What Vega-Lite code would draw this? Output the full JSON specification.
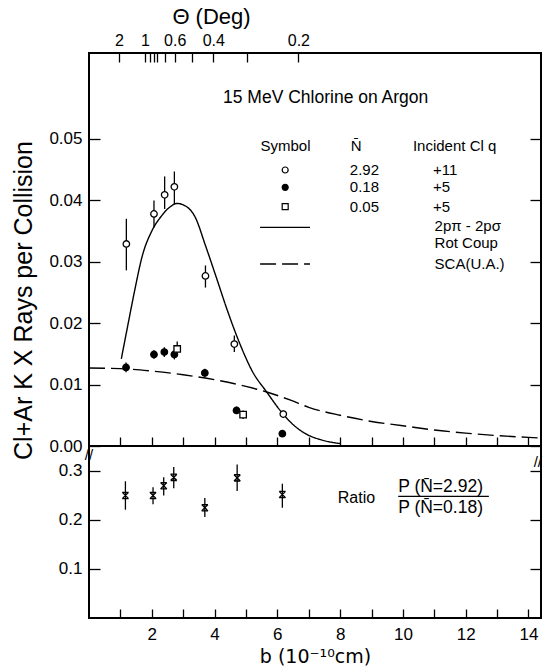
{
  "$schema": "https://vega.github.io/schema/vega-lite/v6.json",
  "background": "white",
  "padding": {"left": 10, "top": 4, "right": 0, "bottom": 0},
  "spacing": 0,
  "bounds": "flush",
  "config": {
    "font": "Liberation Sans",
    "view": {"stroke": "black", "strokeWidth": 2},
    "concat": {"spacing": 0},
    "axis": {"grid": false, "domain": false, "tickColor": "black", "tickWidth": 1.3, "labelColor": "black", "titleColor": "black", "labelFont": "Liberation Sans", "titleFont": "Liberation Sans", "labelFontSize": 17, "titleFontWeight": "normal", "labelFlush": false, "labelOverlap": false, "minExtent": 0},
    "text": {"font": "Liberation Sans", "color": "black"}
  },
  "datasets": {
    "kx": [
      {"b": 1.18, "p": 0.0128, "lo": 0.0120, "hi": 0.0136, "series": "0.18"},
      {"b": 2.07, "p": 0.0149, "lo": 0.0142, "hi": 0.0156, "series": "0.18"},
      {"b": 2.40, "p": 0.0153, "lo": 0.0145, "hi": 0.0161, "series": "0.18"},
      {"b": 2.72, "p": 0.0149, "lo": 0.0141, "hi": 0.0157, "series": "0.18"},
      {"b": 3.69, "p": 0.0119, "lo": 0.0112, "hi": 0.0126, "series": "0.18"},
      {"b": 4.70, "p": 0.0058, "lo": 0.0052, "hi": 0.0064, "series": "0.18"},
      {"b": 6.16, "p": 0.0020, "lo": 0.0015, "hi": 0.0025, "series": "0.18"},
      {"b": 2.81, "p": 0.0158, "lo": 0.0148, "hi": 0.0170, "series": "0.05"},
      {"b": 4.91, "p": 0.0051, "lo": 0.0044, "hi": 0.0058, "series": "0.05"},
      {"b": 1.19, "p": 0.0329, "lo": 0.0286, "hi": 0.0370, "series": "2.92"},
      {"b": 2.07, "p": 0.0378, "lo": 0.0356, "hi": 0.0400, "series": "2.92"},
      {"b": 2.41, "p": 0.0409, "lo": 0.0386, "hi": 0.0439, "series": "2.92"},
      {"b": 2.72, "p": 0.0422, "lo": 0.0394, "hi": 0.0447, "series": "2.92"},
      {"b": 3.71, "p": 0.0277, "lo": 0.0258, "hi": 0.0294, "series": "2.92"},
      {"b": 4.63, "p": 0.0166, "lo": 0.0153, "hi": 0.0180, "series": "2.92"},
      {"b": 6.19, "p": 0.0052, "lo": 0.0046, "hi": 0.0058, "series": "2.92"}
    ],
    "curves": [
      {"b": 1.03, "p": 0.0142, "curve": "Rot Coup"},
      {"b": 1.25, "p": 0.0200, "curve": "Rot Coup"},
      {"b": 1.45, "p": 0.0252, "curve": "Rot Coup"},
      {"b": 1.70, "p": 0.0310, "curve": "Rot Coup"},
      {"b": 2.00, "p": 0.0350, "curve": "Rot Coup"},
      {"b": 2.30, "p": 0.0374, "curve": "Rot Coup"},
      {"b": 2.60, "p": 0.0390, "curve": "Rot Coup"},
      {"b": 2.80, "p": 0.0395, "curve": "Rot Coup"},
      {"b": 3.07, "p": 0.0391, "curve": "Rot Coup"},
      {"b": 3.39, "p": 0.0372, "curve": "Rot Coup"},
      {"b": 3.70, "p": 0.0328, "curve": "Rot Coup"},
      {"b": 4.04, "p": 0.0277, "curve": "Rot Coup"},
      {"b": 4.40, "p": 0.0222, "curve": "Rot Coup"},
      {"b": 4.81, "p": 0.0166, "curve": "Rot Coup"},
      {"b": 5.20, "p": 0.0122, "curve": "Rot Coup"},
      {"b": 5.66, "p": 0.0088, "curve": "Rot Coup"},
      {"b": 6.12, "p": 0.0056, "curve": "Rot Coup"},
      {"b": 6.50, "p": 0.0035, "curve": "Rot Coup"},
      {"b": 6.90, "p": 0.0020, "curve": "Rot Coup"},
      {"b": 7.40, "p": 0.0010, "curve": "Rot Coup"},
      {"b": 8.00, "p": 0.0004, "curve": "Rot Coup"},
      {"b": 0.00, "p": 0.0127, "curve": "SCA"},
      {"b": 1.00, "p": 0.0126, "curve": "SCA"},
      {"b": 2.00, "p": 0.0122, "curve": "SCA"},
      {"b": 3.00, "p": 0.0116, "curve": "SCA"},
      {"b": 4.00, "p": 0.0108, "curve": "SCA"},
      {"b": 5.00, "p": 0.0097, "curve": "SCA"},
      {"b": 5.66, "p": 0.0088, "curve": "SCA"},
      {"b": 6.40, "p": 0.0075, "curve": "SCA"},
      {"b": 7.00, "p": 0.0063, "curve": "SCA"},
      {"b": 8.00, "p": 0.0050, "curve": "SCA"},
      {"b": 9.00, "p": 0.0040, "curve": "SCA"},
      {"b": 10.00, "p": 0.0033, "curve": "SCA"},
      {"b": 11.00, "p": 0.0026, "curve": "SCA"},
      {"b": 12.00, "p": 0.0021, "curve": "SCA"},
      {"b": 13.00, "p": 0.0017, "curve": "SCA"},
      {"b": 14.00, "p": 0.0014, "curve": "SCA"},
      {"b": 14.40, "p": 0.0013, "curve": "SCA"}
    ],
    "legendSym": [
      {"b": 6.25, "p": 0.04495, "series": "2.92"},
      {"b": 6.25, "p": 0.04212, "series": "0.18"},
      {"b": 6.25, "p": 0.03898, "series": "0.05"}
    ],
    "legendLines": [
      {"b": 5.45, "b2": 7.04, "p": 0.03561, "curve": "Rot Coup"},
      {"b": 5.45, "b2": 7.04, "p": 0.02965, "curve": "SCA"}
    ],
    "ratio": [
      {"b": 1.16, "r": 0.250, "lo": 0.221, "hi": 0.279},
      {"b": 2.04, "r": 0.250, "lo": 0.232, "hi": 0.267},
      {"b": 2.38, "r": 0.270, "lo": 0.250, "hi": 0.287},
      {"b": 2.70, "r": 0.287, "lo": 0.265, "hi": 0.308},
      {"b": 3.69, "r": 0.225, "lo": 0.206, "hi": 0.245},
      {"b": 4.72, "r": 0.286, "lo": 0.259, "hi": 0.313},
      {"b": 6.16, "r": 0.252, "lo": 0.225, "hi": 0.274}
    ]
  },
  "vconcat": [
    {
      "width": 452,
      "height": 393,
      "resolve": {"axis": {"x": "independent", "y": "independent"}},
      "layer": [
        {
          "data": {"name": "curves"},
          "mark": {"type": "line", "color": "black", "strokeWidth": 1.4, "interpolate": "monotone"},
          "encoding": {
            "x": {"field": "b", "type": "quantitative", "scale": {"domain": [0, 14.4], "nice": false, "zero": false},
                  "axis": {"orient": "bottom", "values": [1,2,3,4,5,6,7,8,9,10,11,12,13,14], "labels": false, "labelPadding": 0, "tickSize": -9, "title": null}},
            "y": {"field": "p", "type": "quantitative", "scale": {"domain": [0, 0.064], "nice": false},
                  "axis": {"orient": "left", "values": [0, 0.01, 0.02, 0.03, 0.04, 0.05], "format": ".2f", "tickSize": -11, "labelPadding": 18,
                           "title": "Cl+Ar K X Rays per Collision", "titleFontSize": 25, "titleAngle": -90, "titleX": -58, "titleY": 247, "titleBaseline": "alphabetic", "titleAlign": "center"}},
            "strokeDash": {"field": "curve", "type": "nominal", "scale": {"domain": ["Rot Coup", "SCA"], "range": [[1, 0], [16, 6]]}, "legend": null}
          }
        },
        {
          "data": {"name": "kx"},
          "mark": {"type": "rule", "color": "black", "strokeWidth": 1.3},
          "encoding": {
            "x": {"field": "b", "type": "quantitative",
                  "axis": {"orient": "top", "values": [0.955, 1.78, 1.94, 2.06, 2.18, 2.42, 2.73, 3.27, 3.96, 5.03, 6.67],
                           "labelExpr": "datum.value == 0.955 ? '2' : datum.value == 1.78 ? '1' : datum.value == 2.73 ? '0.6' : datum.value == 3.96 ? '0.4' : datum.value == 6.67 ? '0.2' : ''",
                           "labelFontSize": 16, "tickSize": -9, "labelPadding": 14, "title": "Θ (Deg)", "titleFontSize": 22, "titleX": 122, "titlePadding": 4}},
            "y": {"field": "lo", "type": "quantitative",
                  "axis": {"orient": "right", "values": [0, 0.01, 0.02, 0.03, 0.04, 0.05], "labels": false, "labelPadding": 0, "tickSize": -11, "title": null}},
            "y2": {"field": "hi"}
          }
        },
        {
          "data": {"name": "kx"},
          "mark": {"type": "point", "filled": true, "stroke": "black", "strokeWidth": 1.3, "opacity": 1, "size": 42},
          "encoding": {
            "x": {"field": "b", "type": "quantitative", "axis": null},
            "y": {"field": "p", "type": "quantitative", "axis": null},
            "shape": {"field": "series", "type": "nominal", "scale": {"domain": ["2.92", "0.18", "0.05"], "range": ["circle", "circle", "square"]}, "legend": null},
            "fill": {"field": "series", "type": "nominal", "scale": {"domain": ["2.92", "0.18", "0.05"], "range": ["white", "black", "white"]}, "legend": null}
          }
        },
        {
          "data": {"name": "legendSym"},
          "mark": {"type": "point", "filled": true, "stroke": "black", "strokeWidth": 1.2, "opacity": 1, "size": 36},
          "encoding": {
            "x": {"field": "b", "type": "quantitative", "axis": null},
            "y": {"field": "p", "type": "quantitative", "axis": null},
            "shape": {"field": "series", "type": "nominal", "legend": null},
            "fill": {"field": "series", "type": "nominal", "legend": null}
          }
        },
        {
          "data": {"name": "legendLines"},
          "mark": {"type": "rule", "color": "black", "strokeWidth": 1.4},
          "encoding": {
            "x": {"field": "b", "type": "quantitative", "axis": null},
            "x2": {"field": "b2"},
            "y": {"field": "p", "type": "quantitative", "axis": null},
            "strokeDash": {"field": "curve", "type": "nominal", "legend": null}
          }
        },
        {
          "data": {"values": [
            {"b": 7.54, "p": 0.0567, "t": "15 MeV Chlorine on Argon"}
          ]},
          "mark": {"type": "text", "fontSize": 17.5, "align": "center", "baseline": "middle"},
          "encoding": {
            "x": {"field": "b", "type": "quantitative", "axis": null},
            "y": {"field": "p", "type": "quantitative", "axis": null},
            "text": {"field": "t"}
          }
        },
        {
          "data": {"values": [
            {"b": 6.26, "p": 0.0489, "t": "Symbol"},
            {"b": 8.51, "p": 0.0489, "t": "N̄"}
          ]},
          "mark": {"type": "text", "fontSize": 15, "align": "center", "baseline": "middle"},
          "encoding": {
            "x": {"field": "b", "type": "quantitative", "axis": null},
            "y": {"field": "p", "type": "quantitative", "axis": null},
            "text": {"field": "t"}
          }
        },
        {
          "data": {"values": [
            {"b": 10.32, "p": 0.0489, "t": "Incident Cl q"},
            {"b": 8.31, "p": 0.04495, "t": "2.92"},
            {"b": 10.96, "p": 0.04495, "t": "+11"},
            {"b": 8.31, "p": 0.04212, "t": "0.18"},
            {"b": 10.96, "p": 0.04212, "t": "+5"},
            {"b": 8.31, "p": 0.03898, "t": "0.05"},
            {"b": 10.96, "p": 0.03898, "t": "+5"},
            {"b": 11.01, "p": 0.0358, "t": "2pπ - 2pσ"},
            {"b": 11.01, "p": 0.0330, "t": "Rot Coup"},
            {"b": 11.01, "p": 0.02965, "t": "SCA(U.A.)"}
          ]},
          "mark": {"type": "text", "fontSize": 15, "align": "left", "baseline": "middle"},
          "encoding": {
            "x": {"field": "b", "type": "quantitative", "axis": null},
            "y": {"field": "p", "type": "quantitative", "axis": null},
            "text": {"field": "t"}
          }
        }
      ]
    },
    {
      "width": 452,
      "height": 172,
      "resolve": {"axis": {"x": "independent", "y": "independent"}},
      "layer": [
        {
          "data": {"name": "ratio"},
          "mark": {"type": "rule", "color": "black", "strokeWidth": 1.3},
          "encoding": {
            "x": {"field": "b", "type": "quantitative", "scale": {"domain": [0, 14.4], "nice": false, "zero": false},
                  "axis": {"orient": "bottom", "values": [1,2,3,4,5,6,7,8,9,10,11,12,13,14], "labelExpr": "datum.value % 2 == 0 ? datum.label : ''",
                           "tickSize": -9, "labelPadding": 17, "title": "b  (10⁻¹⁰cm)", "titleFont": "DejaVu Sans", "titleFontSize": 19, "titlePadding": 5}},
            "y": {"field": "lo", "type": "quantitative", "scale": {"domain": [0, 0.351], "nice": false},
                  "axis": {"orient": "left", "values": [0.1, 0.2, 0.3], "format": ".1f", "tickSize": -11, "labelPadding": 18, "title": null}},
            "y2": {"field": "hi"}
          }
        },
        {
          "data": {"name": "ratio"},
          "mark": {"type": "point", "shape": "M-1,-1L1,1M-1,1L1,-1M-1,-1L1,-1M-1,1L1,1", "filled": false, "stroke": "black", "strokeWidth": 1.3, "opacity": 1, "size": 40},
          "encoding": {
            "x": {"field": "b", "type": "quantitative", "axis": null},
            "y": {"field": "r", "type": "quantitative",
                  "axis": {"orient": "right", "values": [0.1, 0.2, 0.3], "labels": false, "labelPadding": 0, "tickSize": -11, "title": null}}
          }
        },
        {
          "data": {"values": [{"b": 9.85, "b2": 12.74, "r": 0.248}]},
          "mark": {"type": "rule", "color": "black", "strokeWidth": 1.2},
          "encoding": {
            "x": {"field": "b", "type": "quantitative", "axis": null},
            "x2": {"field": "b2"},
            "y": {"field": "r", "type": "quantitative", "axis": null}
          }
        },
        {
          "data": {"values": [{"b": 8.52, "r": 0.245, "t": "Ratio"}]},
          "mark": {"type": "text", "fontSize": 16, "align": "center", "baseline": "middle"},
          "encoding": {
            "x": {"field": "b", "type": "quantitative", "axis": null},
            "y": {"field": "r", "type": "quantitative", "axis": null},
            "text": {"field": "t"}
          }
        },
        {
          "data": {"values": [
            {"b": 9.85, "r": 0.267, "t": "P (N̄=2.92)"},
            {"b": 9.85, "r": 0.225, "t": "P (N̄=0.18)"}
          ]},
          "mark": {"type": "text", "fontSize": 17.5, "align": "left", "baseline": "middle"},
          "encoding": {
            "x": {"field": "b", "type": "quantitative", "axis": null},
            "y": {"field": "r", "type": "quantitative", "axis": null},
            "text": {"field": "t"}
          }
        },
        {
          "data": {"values": [
            {"b": 0.0, "r": 0.333, "t": "//"},
            {"b": 14.3, "r": 0.318, "t": "//"}
          ]},
          "mark": {"type": "text", "fontSize": 15, "align": "center", "baseline": "middle", "clip": false},
          "encoding": {
            "x": {"field": "b", "type": "quantitative", "axis": null},
            "y": {"field": "r", "type": "quantitative", "axis": null},
            "text": {"field": "t"}
          }
        }
      ]
    }
  ]
}
